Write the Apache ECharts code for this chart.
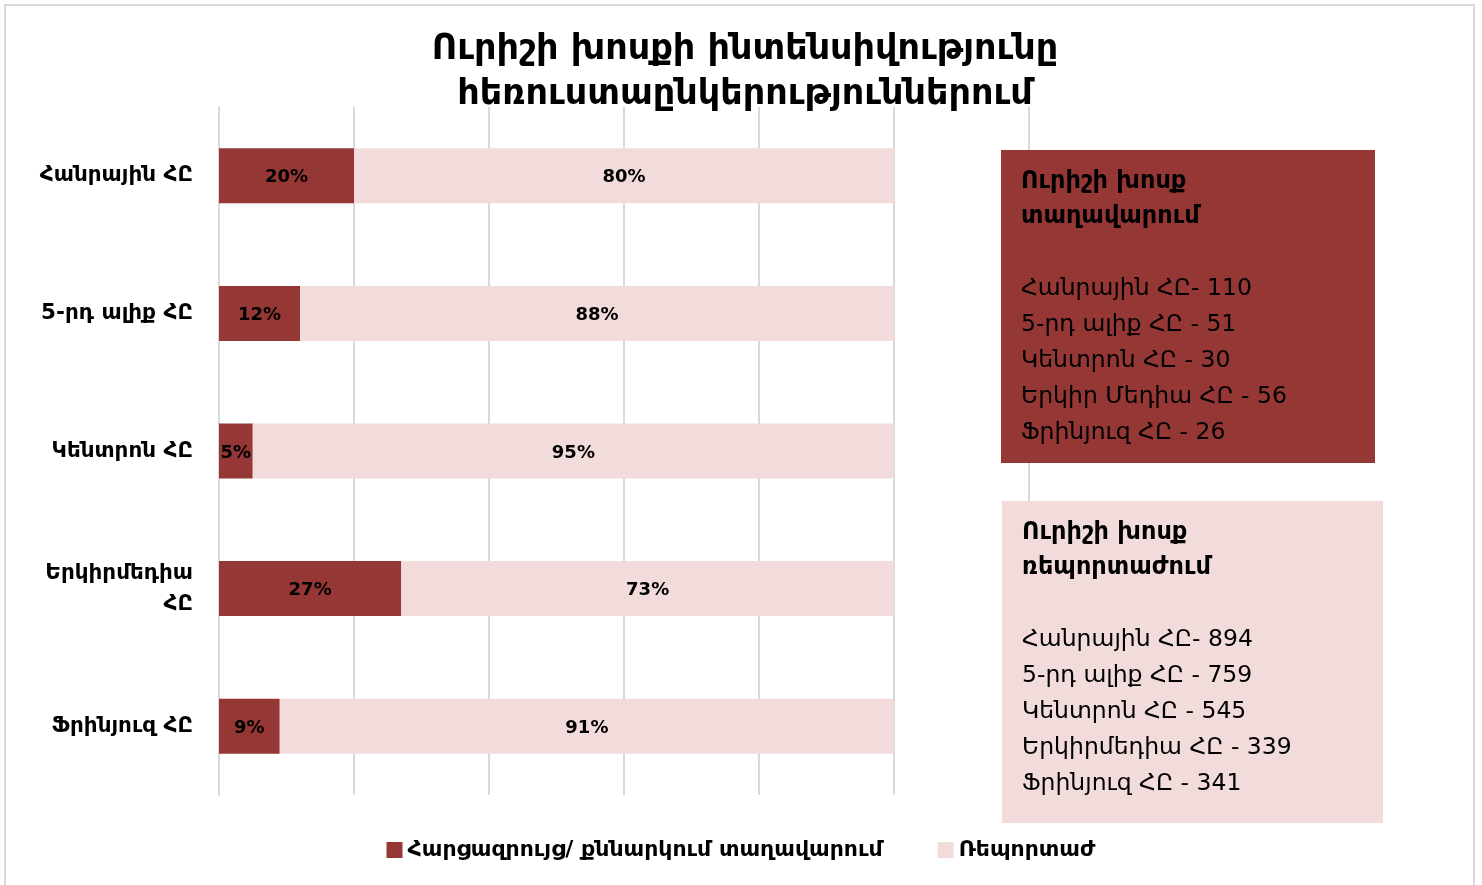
<!DOCTYPE html>
<html>
<head>
<meta charset="utf-8">
<script src="https://cdn.jsdelivr.net/npm/echarts@6/dist/echarts.min.js"></script>
<style>
  html, body { margin: 0; padding: 0; background: #fff; }
  #chart { width: 1482px; height: 885px; }
</style>
</head>
<body>
<div id="chart"></div>
<script>
const categories = ["Հանրային ՀԸ", "5-րդ ալիք ՀԸ", "Կենտրոն ՀԸ", "Երկիրմեդիա\nՀԸ", "Ֆրինյուզ ՀԸ"];
const assignedPct = [20, 12, 5, 27, 9];
const reportedPct = [80, 88, 95, 73, 91];
const seriesNames = ["Հարցազրույց/ քննարկում տաղավարում", "Ռեպորտաժ"];

// տեքստային բլոկներ աջ կողմում
const box1Title = "Ուրիշի խոսք\nտաղավարում";
const box1Lines = ["Հանրային ՀԸ- 110", "5-րդ ալիք ՀԸ - 51", "Կենտրոն ՀԸ - 30", "Երկիր Մեդիա ՀԸ - 56", "Ֆրինյուզ ՀԸ - 26"];
const box2Title = "Ուրիշի խոսք\nռեպորտաժում";
const box2Lines = ["Հանրային ՀԸ- 894", "5-րդ ալիք ՀԸ - 759", "Կենտրոն ՀԸ - 545", "Երկիրմեդիա ՀԸ - 339", "Ֆրինյուզ ՀԸ - 341"];

const DARK = "#953735";
const LIGHT = "#F2DCDB";
const FONT = "'DejaVu Sans', 'Noto Sans', sans-serif";

function textBox(x, y, w, h, fill, title, lines) {
  return {
    type: "group",
    x: x,
    y: y,
    children: [
      { type: "rect", z: 100, shape: { x: 0, y: 0, width: w, height: h }, style: { fill: fill } },
      {
        type: "text", z: 101, x: 20, y: 14,
        style: { text: title, font: "bold 24px " + FONT, fill: "#000", lineHeight: 35 }
      },
      {
        type: "text", z: 101, x: 20, y: 121,
        style: { text: lines.join("\n"), font: "23.5px " + FONT, fill: "#000", lineHeight: 36 }
      }
    ]
  };
}

const chart = echarts.init(document.getElementById("chart"));
chart.setOption({
  backgroundColor: "#fff",
  animation: false,
  textStyle: { fontFamily: FONT },
  title: {
    text: "Ուրիշի խոսքի ինտենսիվությունը\nհեռուստաընկերություններում",
    left: 740,
    textAlign: "center",
    top: 22,
    textStyle: { fontSize: 35, fontWeight: "bold", color: "#000", lineHeight: 45, fontFamily: FONT }
  },
  legend: {
    bottom: 19,
    left: "center",
    itemWidth: 16,
    itemHeight: 16,
    itemGap: 55,
    icon: "rect",
    textStyle: { fontSize: 22, fontWeight: "bold", color: "#000", fontFamily: FONT },
    data: seriesNames
  },
  grid: { left: 219, right: 453, top: 107, bottom: 90 },
  xAxis: {
    type: "value",
    min: 0,
    max: 120,
    interval: 20,
    axisLabel: { show: false },
    axisLine: { show: false },
    axisTick: { show: false },
    splitLine: { show: true, lineStyle: { color: "#d9d9d9", width: 2 } }
  },
  yAxis: {
    type: "category",
    inverse: true,
    data: categories,
    axisLine: { show: true, lineStyle: { color: "#d9d9d9", width: 2 } },
    axisTick: { show: false },
    axisLabel: {
      margin: 26,
      fontSize: 21.5,
      fontWeight: "bold",
      color: "#000",
      lineHeight: 31,
      fontFamily: FONT
    }
  },
  series: [
    {
      name: seriesNames[0],
      type: "bar",
      stack: "total",
      barWidth: 55,
      itemStyle: { color: DARK },
      label: {
        show: true, position: "inside", formatter: "{c}%", offset: [0, 2],
        fontSize: 18, fontWeight: "bold", color: "#000", fontFamily: FONT
      },
      data: assignedPct
    },
    {
      name: seriesNames[1],
      type: "bar",
      stack: "total",
      barWidth: 55,
      itemStyle: { color: LIGHT },
      label: {
        show: true, position: "inside", formatter: "{c}%", offset: [0, 2],
        fontSize: 18, fontWeight: "bold", color: "#000", fontFamily: FONT
      },
      data: reportedPct
    }
  ],
  graphic: [
    {
      type: "rect", z: 0,
      shape: { x: 5, y: 5, width: 1469, height: 900 },
      style: { fill: "none", stroke: "#d9d9d9", lineWidth: 2 }
    },
    textBox(1001, 150, 374, 313, DARK, box1Title, box1Lines),
    textBox(1002, 501, 381, 322, LIGHT, box2Title, box2Lines)
  ]
});
</script>
</body>
</html>
